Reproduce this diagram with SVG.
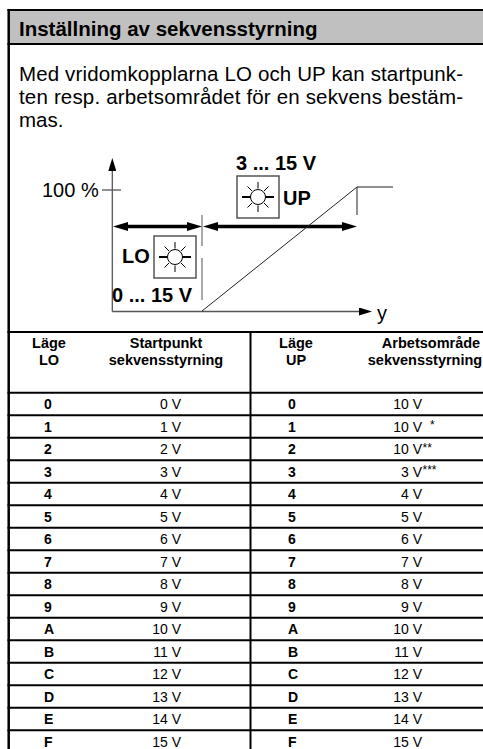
<svg xmlns="http://www.w3.org/2000/svg" width="483" height="749" viewBox="0 0 483 749">
<style>
text { font-family: "Liberation Sans", Arial, sans-serif; fill: #000; }
.title { font-size: 20.5px; font-weight: bold; }
.body { font-size: 20.5px; }
.lbl { font-size: 20px; font-weight: bold; }
.ax { font-size: 20px; }
.th { font-size: 14.5px; font-weight: bold; text-anchor: middle; }
.key { font-size: 14px; font-weight: bold; }
.val { font-size: 14px; text-anchor: end; }
.star { font-size: 12px; }
.grid { stroke: #000; stroke-width: 2; fill: none; }
.frame { stroke: #000; stroke-width: 2.5; fill: none; }
.box { fill: #fff; stroke: #555; stroke-width: 1.5; }
.ray { stroke: #000; stroke-width: 1; }
.rayh { stroke: #000; stroke-width: 2; }
.axis { stroke: #555; stroke-width: 1.3; fill: none; }
.thin { stroke: #222; stroke-width: 1; fill: none; }
.sep { stroke: #555; stroke-width: 1; fill: none; }
.thick { stroke: #000; stroke-width: 3.5; fill: none; }
</style>
<defs>
<marker id="bigArrow" markerUnits="userSpaceOnUse" markerWidth="15" markerHeight="9" refX="5" refY="4.5" orient="auto-start-reverse">
<path d="M0,0 L15,4.5 L0,9 z" fill="#000"/>
</marker>
<marker id="axArrow" markerUnits="userSpaceOnUse" markerWidth="13" markerHeight="8" refX="3" refY="4" orient="auto">
<path d="M0,0 L13,4 L0,8 z" fill="#000"/>
</marker>
<g id="sun">
<circle cx="0" cy="0" r="7.5" fill="#fff" stroke="#000" stroke-width="1"/>
<line class="rayh" x1="-16" y1="0" x2="-7.5" y2="0"/>
<line class="rayh" x1="7.5" y1="0" x2="16" y2="0"/>
<line class="ray" x1="0" y1="-8.5" x2="0" y2="-15"/>
<line class="ray" x1="0" y1="8.5" x2="0" y2="15"/>
<line class="ray" x1="6" y1="-6" x2="10.5" y2="-10.5"/>
<line class="ray" x1="-6" y1="-6" x2="-10.5" y2="-10.5"/>
<line class="ray" x1="6" y1="6" x2="10.5" y2="10.5"/>
<line class="ray" x1="-6" y1="6" x2="-10.5" y2="10.5"/>
</g>
</defs>

<g id="frame">
<rect x="8.7" y="10" width="480" height="34" fill="#c0c0c0"/>
<line class="grid" x1="7.5" y1="10" x2="483" y2="10"/>
<line class="grid" x1="7.5" y1="44" x2="483" y2="44"/>
<line class="frame" x1="8.7" y1="9" x2="8.7" y2="749"/>
<text class="title" x="19" y="36">Inställning av sekvensstyrning</text>
</g>

<g id="description">
<text class="body" x="19" y="81" textLength="444" lengthAdjust="spacing">Med vridomkopplarna LO och UP kan startpunk-</text>
<text class="body" x="19" y="104" textLength="444" lengthAdjust="spacing">ten resp. arbetsområdet för en sekvens bestäm-</text>
<text class="body" x="19" y="127">mas.</text>
</g>

<g id="connectors">
<line class="axis" x1="112.3" y1="311.5" x2="112.3" y2="168" marker-end="url(#axArrow)"/>
<line class="axis" x1="112.3" y1="311.5" x2="362" y2="311.5" marker-end="url(#axArrow)"/>
<line class="axis" x1="102" y1="190" x2="121" y2="190"/>
<line class="thick" x1="123" y1="226.5" x2="192" y2="226.5" marker-start="url(#bigArrow)" marker-end="url(#bigArrow)"/>
<line class="thick" x1="213" y1="226.5" x2="347" y2="226.5" marker-start="url(#bigArrow)" marker-end="url(#bigArrow)"/>
<line class="sep" x1="202" y1="215" x2="202" y2="246"/>
<line class="sep" x1="202" y1="258" x2="202" y2="300"/>
<polyline class="thin" points="202,311 357,187 393,187"/>
<line class="thin" x1="357" y1="187" x2="357" y2="215"/>
</g>

<g id="axis-labels">
<text class="ax" x="42" y="197">100 %</text>
<text class="ax" x="377" y="320">y</text>
</g>

<g id="up-switch">
<rect class="box" x="237" y="176" width="42" height="42"/>
<use href="#sun" x="258" y="197"/>
<text class="lbl" x="236" y="170">3 ... 15 V</text>
<text class="lbl" x="283" y="205">UP</text>
</g>

<g id="lo-switch">
<rect class="box" x="154" y="236" width="42" height="42"/>
<use href="#sun" x="175" y="257"/>
<text class="lbl" x="122" y="263">LO</text>
<text class="lbl" x="112" y="302">0 ... 15 V</text>
</g>

<g id="table">
<line class="grid" x1="7.5" y1="332" x2="483" y2="332"/>
<line class="grid" x1="250.5" y1="332" x2="250.5" y2="749"/>
<g class="rows">
<line class="grid" x1="7.5" y1="392.75" x2="483" y2="392.75"/>
<line class="grid" x1="7.5" y1="415.25" x2="483" y2="415.25"/>
<line class="grid" x1="7.5" y1="437.75" x2="483" y2="437.75"/>
<line class="grid" x1="7.5" y1="460.25" x2="483" y2="460.25"/>
<line class="grid" x1="7.5" y1="482.75" x2="483" y2="482.75"/>
<line class="grid" x1="7.5" y1="505.25" x2="483" y2="505.25"/>
<line class="grid" x1="7.5" y1="527.75" x2="483" y2="527.75"/>
<line class="grid" x1="7.5" y1="550.25" x2="483" y2="550.25"/>
<line class="grid" x1="7.5" y1="572.75" x2="483" y2="572.75"/>
<line class="grid" x1="7.5" y1="595.25" x2="483" y2="595.25"/>
<line class="grid" x1="7.5" y1="617.75" x2="483" y2="617.75"/>
<line class="grid" x1="7.5" y1="640.25" x2="483" y2="640.25"/>
<line class="grid" x1="7.5" y1="662.75" x2="483" y2="662.75"/>
<line class="grid" x1="7.5" y1="685.25" x2="483" y2="685.25"/>
<line class="grid" x1="7.5" y1="707.75" x2="483" y2="707.75"/>
<line class="grid" x1="7.5" y1="730.25" x2="483" y2="730.25"/>
</g>
<text class="th" x="49" y="348">Läge</text>
<text class="th" x="49" y="365">LO</text>
<text class="th" x="166" y="348">Startpunkt</text>
<text class="th" x="166" y="365">sekvensstyrning</text>
<text class="th" x="296" y="348">Läge</text>
<text class="th" x="296" y="365">UP</text>
<text class="th" x="431" y="348">Arbetsområde</text>
<text class="th" x="425" y="365">sekvensstyrning</text>

<text class="key" x="44" y="409">0</text><text class="val" x="181" y="409">0 V</text><text class="key" x="288" y="409">0</text><text class="val" x="422" y="409">10 V</text>
<text class="key" x="44" y="431.5">1</text><text class="val" x="181" y="431.5">1 V</text><text class="key" x="288" y="431.5">1</text><text class="val" x="422" y="431.5">10 V</text><text class="star" x="430" y="429">*</text>
<text class="key" x="44" y="454">2</text><text class="val" x="181" y="454">2 V</text><text class="key" x="288" y="454">2</text><text class="val" x="422" y="454">10 V</text><text class="star" x="422.5" y="451.5">**</text>
<text class="key" x="44" y="476.5">3</text><text class="val" x="181" y="476.5">3 V</text><text class="key" x="288" y="476.5">3</text><text class="val" x="422" y="476.5">3 V</text><text class="star" x="422.5" y="474">***</text>
<text class="key" x="44" y="499">4</text><text class="val" x="181" y="499">4 V</text><text class="key" x="288" y="499">4</text><text class="val" x="422" y="499">4 V</text>
<text class="key" x="44" y="521.5">5</text><text class="val" x="181" y="521.5">5 V</text><text class="key" x="288" y="521.5">5</text><text class="val" x="422" y="521.5">5 V</text>
<text class="key" x="44" y="544">6</text><text class="val" x="181" y="544">6 V</text><text class="key" x="288" y="544">6</text><text class="val" x="422" y="544">6 V</text>
<text class="key" x="44" y="566.5">7</text><text class="val" x="181" y="566.5">7 V</text><text class="key" x="288" y="566.5">7</text><text class="val" x="422" y="566.5">7 V</text>
<text class="key" x="44" y="589">8</text><text class="val" x="181" y="589">8 V</text><text class="key" x="288" y="589">8</text><text class="val" x="422" y="589">8 V</text>
<text class="key" x="44" y="611.5">9</text><text class="val" x="181" y="611.5">9 V</text><text class="key" x="288" y="611.5">9</text><text class="val" x="422" y="611.5">9 V</text>
<text class="key" x="44" y="634">A</text><text class="val" x="181" y="634">10 V</text><text class="key" x="288" y="634">A</text><text class="val" x="422" y="634">10 V</text>
<text class="key" x="44" y="656.5">B</text><text class="val" x="181" y="656.5">11 V</text><text class="key" x="288" y="656.5">B</text><text class="val" x="422" y="656.5">11 V</text>
<text class="key" x="44" y="679">C</text><text class="val" x="181" y="679">12 V</text><text class="key" x="288" y="679">C</text><text class="val" x="422" y="679">12 V</text>
<text class="key" x="44" y="701.5">D</text><text class="val" x="181" y="701.5">13 V</text><text class="key" x="288" y="701.5">D</text><text class="val" x="422" y="701.5">13 V</text>
<text class="key" x="44" y="724">E</text><text class="val" x="181" y="724">14 V</text><text class="key" x="288" y="724">E</text><text class="val" x="422" y="724">14 V</text>
<text class="key" x="44" y="746.5">F</text><text class="val" x="181" y="746.5">15 V</text><text class="key" x="288" y="746.5">F</text><text class="val" x="422" y="746.5">15 V</text>
</g>
</svg>
